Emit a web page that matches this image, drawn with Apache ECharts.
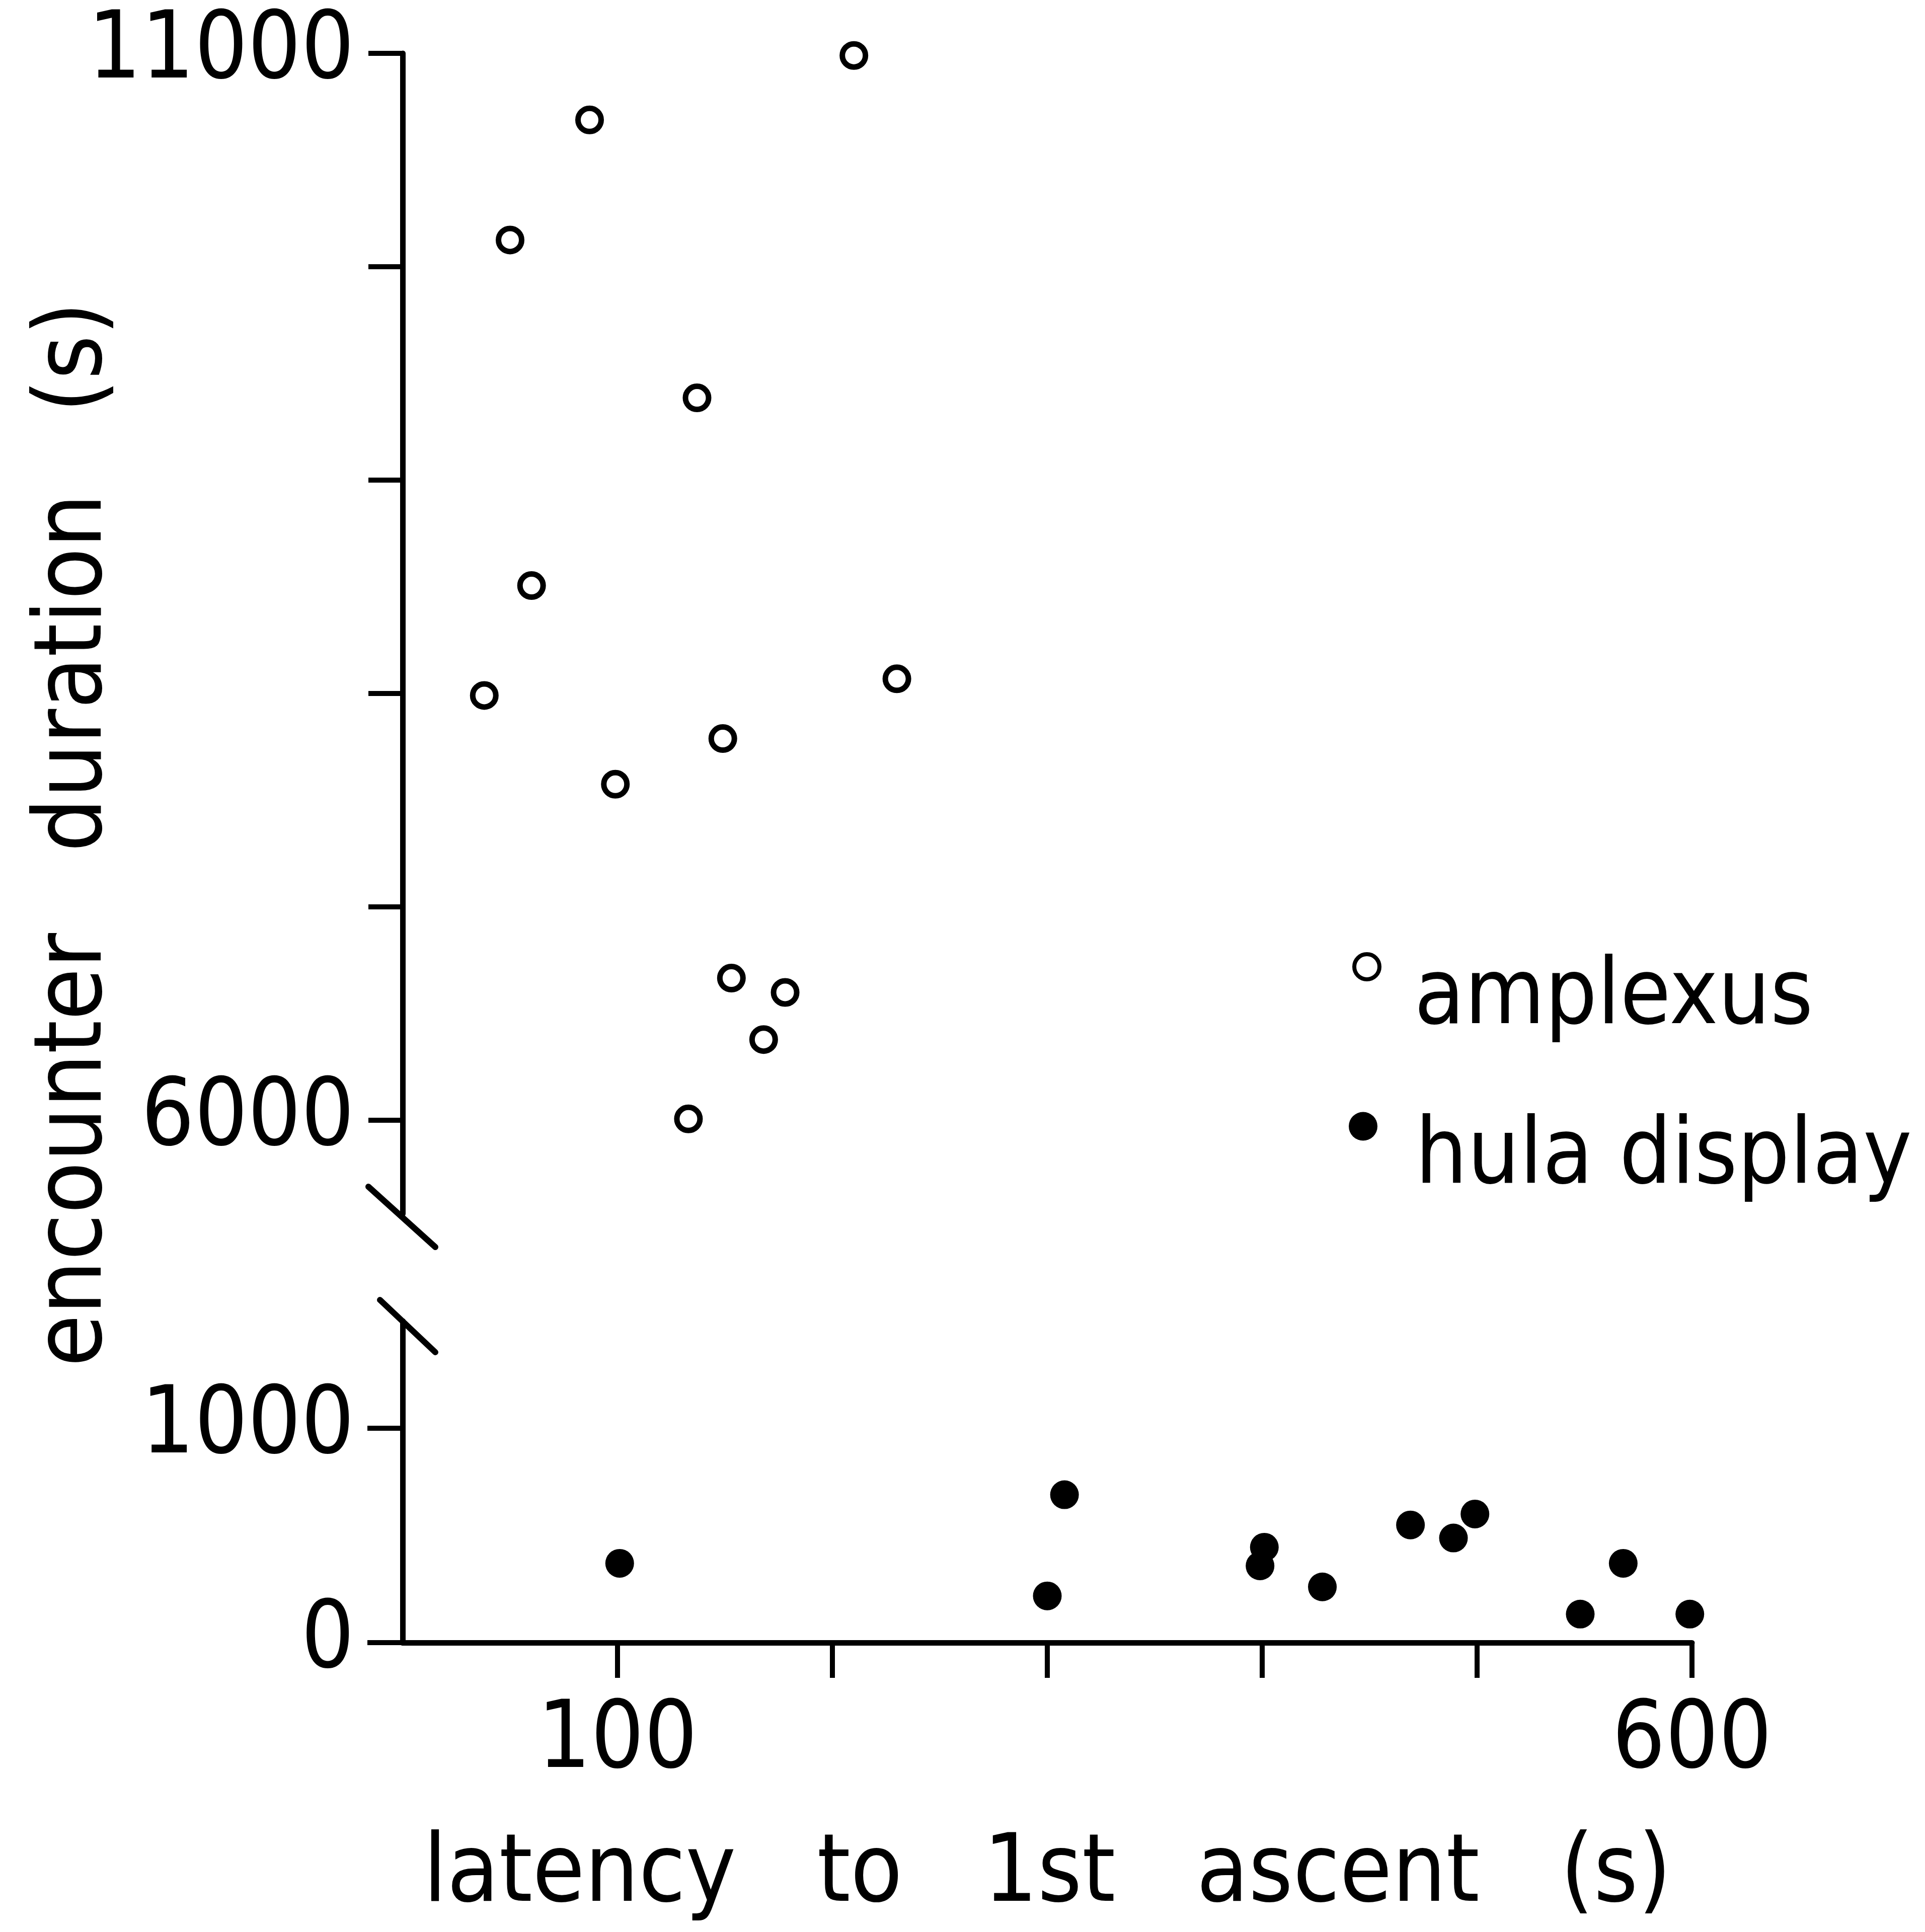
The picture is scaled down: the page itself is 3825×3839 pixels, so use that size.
<!DOCTYPE html>
<html>
<head>
<meta charset="utf-8">
<script src="https://cdn.jsdelivr.net/npm/echarts@6/dist/echarts.min.js"></script>
<style>
html, body { margin: 0; padding: 0; background: #fff; }
#chart { width: 3825px; height: 3839px; }
</style>
</head>
<body>
<div id="chart"></div>
<script>
// ---- data ----
const seriesNames = ['amplexus', 'hula display'];
const amplexusLatency  = [38, 50, 60, 87, 99, 133, 137, 149, 153, 168, 178, 210, 230];
const amplexusDuration = [7990, 10125, 8505, 10688, 7574, 6005, 9385, 7788, 6665, 6377, 6598, 10990, 8068];
const hulaLatency  = [101, 300, 308, 399, 401, 428, 469, 489, 499, 548, 568, 599];
const hulaDuration = [370, 218, 690, 358, 445, 260, 549, 488, 600, 133, 370, 133];
const xTickValues  = [100, 200, 300, 400, 500, 600];
const xTickLabels  = [100, 600];
const upperYTicks  = [6000, 7000, 8000, 9000, 10000, 11000];
const upperYLabels = [6000, 11000];
const lowerYTicks  = [0, 1000];
const lowerYLabels = [0, 1000];
const xTitle = 'latency to 1st ascent (s)';
const yTitle = 'encounter duration (s)';

// ---- font selection (local fonts only) ----
function hasFont(name) {
  const ctx = document.createElement('canvas').getContext('2d');
  const s = 'encounter duration 0123456789';
  for (const fb of ['monospace', 'serif']) {
    ctx.font = '100px ' + fb; const a = ctx.measureText(s).width;
    ctx.font = '100px "' + name + '", ' + fb; const b = ctx.measureText(s).width;
    if (Math.abs(a - b) < 0.5) return false;
  }
  return true;
}
const WORD_FONT = ['DejaVu Sans Condensed', 'Liberation Sans Narrow', 'DejaVu Sans'].find(hasFont) || 'sans-serif';
const NUM_FONT  = ['Liberation Sans Narrow', 'DejaVu Sans Condensed', 'DejaVu Sans'].find(hasFont) || 'sans-serif';
const WORD_SIZE = 188;
const LEG_SIZE = 182;
const NUM_SIZE = 185;

const wide = t => t.replace(/ /g, '   ');
const plain = v => String(v);

const AXIS_LINE = { color: '#000', width: 11 };
const TICK_LINE = { color: '#000', width: 10 };
const numLabel = { fontFamily: NUM_FONT, fontSize: NUM_SIZE, color: '#000', formatter: plain };

const chart = echarts.init(document.getElementById('chart'), null, { renderer: 'canvas' });

const upperMin = 5560, upperMax = 11000;
const lowerMin = 0, lowerMax = 1500;

const option = {
  backgroundColor: '#fff',
  animation: false,
  textStyle: { fontFamily: WORD_FONT, color: '#000' },
  grid: [
    { left: 800, width: 2562, top: 106, height: 2306, outerBoundsMode: 'none', containLabel: false },
    { left: 800, width: 2562, top: 2625, height: 639, outerBoundsMode: 'none', containLabel: false },
    { left: 800, width: 2562, top: 50, height: 3216, outerBoundsMode: 'none', containLabel: false }
  ],
  xAxis: [
    { gridIndex: 0, type: 'value', min: 0, max: 600, show: false },
    {
      gridIndex: 1, type: 'value', min: 0, max: 600,
      axisLine: { show: true, onZero: false, lineStyle: AXIS_LINE },
      axisTick: { show: true, inside: false, length: 70, lineStyle: TICK_LINE, customValues: xTickValues },
      axisLabel: { show: true, customValues: xTickLabels, margin: 106, ...numLabel },
      splitLine: { show: false },
      name: wide(xTitle), nameLocation: 'middle', nameGap: 370, nameMoveOverlap: false,
      nameTextStyle: { fontFamily: WORD_FONT, fontSize: WORD_SIZE, color: '#000' }
    },
    { gridIndex: 2, type: 'value', min: 0, max: 600, show: false }
  ],
  yAxis: [
    {
      gridIndex: 0, type: 'value', min: upperMin, max: upperMax,
      axisLine: { show: true, onZero: false, lineStyle: AXIS_LINE },
      axisTick: { show: true, inside: false, length: 68, lineStyle: TICK_LINE, customValues: upperYTicks },
      axisLabel: { show: true, customValues: upperYLabels, margin: 96, ...numLabel },
      splitLine: { show: false }
    },
    {
      gridIndex: 1, type: 'value', min: lowerMin, max: lowerMax,
      axisLine: { show: true, onZero: false, lineStyle: AXIS_LINE },
      axisTick: { show: true, inside: false, length: 70, lineStyle: TICK_LINE, customValues: lowerYTicks },
      axisLabel: { show: true, customValues: lowerYLabels, margin: 96, ...numLabel },
      splitLine: { show: false }
    },
    {
      gridIndex: 2, type: 'value', min: 0, max: 1,
      axisLine: { show: false }, axisTick: { show: false }, axisLabel: { show: false }, splitLine: { show: false },
      name: wide(yTitle), nameLocation: 'middle', nameGap: 555, nameMoveOverlap: false,
      nameTextStyle: { fontFamily: WORD_FONT, fontSize: WORD_SIZE, color: '#000' }
    }
  ],
  legend: [
    {
      data: [{ name: seriesNames[0], icon: 'circle' }],
      formatter: '\n{name}',
      orient: 'vertical', left: 2687, top: 1765, padding: 0,
      itemWidth: 50, itemHeight: 50, selectedMode: false,
      itemStyle: { color: '#fff', borderColor: '#000', borderWidth: 8 },
      textStyle: { fontFamily: WORD_FONT, fontSize: LEG_SIZE, lineHeight: 130, color: '#000', padding: [0, 0, 0, 64] }
    },
    {
      data: [{ name: seriesNames[1], icon: 'circle' }],
      formatter: '\n{name}',
      orient: 'vertical', left: 2680, top: 2082, padding: 0,
      itemWidth: 57, itemHeight: 57, selectedMode: false,
      itemStyle: { color: '#000', borderWidth: 0 },
      textStyle: { fontFamily: WORD_FONT, fontSize: LEG_SIZE, lineHeight: 130, color: '#000', padding: [0, 0, 0, 70] }
    }
  ],
  series: [
    {
      name: seriesNames[0], type: 'scatter', xAxisIndex: 0, yAxisIndex: 0,
      symbol: 'circle', symbolSize: 46,
      itemStyle: { color: '#fff', borderColor: '#000', borderWidth: 11, opacity: 1 },
      emphasis: { disabled: true },
      data: amplexusLatency.map((x, i) => [x, amplexusDuration[i]])
    },
    {
      name: seriesNames[1], type: 'scatter', xAxisIndex: 1, yAxisIndex: 1,
      symbol: 'circle', symbolSize: 57,
      itemStyle: { color: '#000', borderWidth: 0, opacity: 1 },
      emphasis: { disabled: true },
      data: hulaLatency.map((x, i) => [x, hulaDuration[i]])
    }
  ]
};
chart.setOption(option);

// axis-break marks, anchored at the broken ends of the two y axes
const pU = chart.convertToPixel({ gridIndex: 0 }, [0, upperMin]);
const pL = chart.convertToPixel({ gridIndex: 1 }, [0, lowerMax]);
const breakStyle = { stroke: '#000', lineWidth: 12, lineCap: 'round' };
chart.setOption({
  graphic: [
    { type: 'line', silent: true, shape: { x1: pU[0] - 68, y1: pU[1] - 54, x2: pU[0] + 65, y2: pU[1] + 66 }, style: breakStyle },
    { type: 'line', silent: true, shape: { x1: pL[0] - 45, y1: pL[1] - 42, x2: pL[0] + 65, y2: pL[1] + 62 }, style: breakStyle }
  ]
});
</script>
</body>
</html>
